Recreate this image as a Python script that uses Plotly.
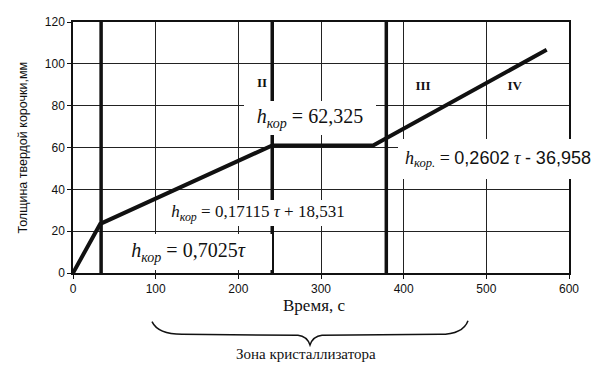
import plotly.graph_objects as go

# ---- data ----
tau = [0, 33, 241, 363, 573]            # time, s
h_crust = [0, 23.5, 61.0, 61.0, 106.7]  # crust thickness, mm
zone_bounds = [34, 241, 379]            # thick vertical zone boundaries, s
x_ticks = [0, 100, 200, 300, 400, 500, 600]
y_ticks = [0, 20, 40, 60, 80, 100, 120]
zone_labels = ["II", "III", "IV"]
eq_flat = "62,325"
eq_1 = "0,7025"
eq_2 = ("0,17115", "18,531")
eq_4 = ("0,2602", "36,958")

# ---- layout geometry (window pixels; page body has an 8px margin) ----
OFF = 8
WIN_W, WIN_H = 604, 378
W, H = WIN_W - OFF, WIN_H - OFF
PL, PR, PT, PB = 73, 569, 15, 273        # plot area in window pixels
ML, MT = PL - OFF, PT - OFF
MR, MB = (W + OFF) - PR, (H + OFF) - PB
PW, PH = PR - PL, PB - PT
X0, X1, Y0, Y1 = 0, 600, 0, 120


def dx(px):
    return X0 + (px - PL) / PW * (X1 - X0)


def dy(py):
    return Y0 + (PB - py) / PH * (Y1 - Y0)


def paper_x(px):
    return (px - PL) / PW


def paper_y(py):
    return (PB - py) / PH


fig = go.Figure()

for b in zone_bounds:
    fig.add_trace(go.Scatter(x=[b, b], y=[Y0, Y1], mode="lines",
                             line=dict(color="#111", width=3.5),
                             hoverinfo="skip", showlegend=False))

fig.add_trace(go.Scatter(x=tau, y=h_crust, mode="lines",
                         line=dict(color="#111", width=4),
                         showlegend=False))

SERIF = "Liberation Serif"
SANS = "Liberation Sans"
HK = "<i>h</i><sub><i>кор</i></sub>"


def box(text, cx, cy, w, h, size, family=SERIF):
    fig.add_annotation(
        x=dx(cx), y=dy(cy), xref="x", yref="y", text=text, showarrow=False,
        width=w, height=h, bgcolor="white", borderpad=0, borderwidth=0,
        xanchor="center", yanchor="middle", align="center",
        font=dict(family=family, size=size, color="#111"))


# zone labels
box("<b>" + zone_labels[0] + "</b>", 262, 77, 14, 18, 13)
box("<b>" + zone_labels[1] + "</b>", 423, 80, 18, 14, 13)
box("<b>" + zone_labels[2] + "</b>", 515, 80, 18, 14, 13)

# equations
box(HK + " = " + eq_flat, 310, 114, 132, 34, 20)
box("<i>h</i><sub><i>кор.</i></sub> = <span style='font-family:Liberation Sans'>"
    + eq_4[0] + "</span> <i>τ</i> <span style='font-family:Liberation Sans'>- "
    + eq_4[1] + "</span>", 498, 156, 200, 40, 18)
box(HK + " = " + eq_2[0] + " <i>τ</i> + " + eq_2[1], 258, 211, 196, 26, 17)
box(HK + " = " + eq_1 + "<i>τ</i>", 188, 251, 167, 36, 20)

# axis titles as annotations
fig.add_annotation(x=paper_x(314), y=paper_y(318), xref="paper", yref="paper",
                   text="Время, с", showarrow=False,
                   font=dict(family=SERIF, size=17, color="#111"))
fig.add_annotation(x=paper_x(13), y=0.5, xref="paper", yref="paper",
                   text="Толщина твердой корочки,мм", showarrow=False,
                   textangle=-90,
                   font=dict(family=SANS, size=12.5, color="#111"))
fig.add_annotation(x=paper_x(306), y=paper_y(367), xref="paper", yref="paper",
                   text="Зона кристаллизатора", showarrow=False,
                   font=dict(family=SERIF, size=15, color="#111"))

# curly brace under the axis title
pts = dict(a=(152, 323), b=(158, 336), c=(182, 336), d=(298, 337),
           e=(307, 338), f=(310, 347), g=(313, 338), i=(322, 337),
           j=(440, 336), k=(463, 336), l=(468, 322))
P = {k: (paper_x(v[0]), paper_y(v[1])) for k, v in pts.items()}


def s(k):
    return f"{P[k][0]:.5f},{P[k][1]:.5f}"


path = (f"M {s('a')} Q {s('b')} {s('c')} L {s('d')} Q {s('e')} {s('f')} "
        f"Q {s('g')} {s('i')} L {s('j')} Q {s('k')} {s('l')}")
fig.add_shape(type="path", path=path, xref="paper", yref="paper",
              line=dict(color="#111", width=1.5))

axis_common = dict(showgrid=True, gridcolor="#222", gridwidth=1,
                   showline=True, linecolor="#111", linewidth=1.5, mirror=True,
                   ticks="outside", ticklen=4, tickcolor="#111",
                   zeroline=False,
                   tickfont=dict(family=SANS, size=12, color="#111"))

fig.update_xaxes(range=[X0, X1], tickvals=x_ticks, **axis_common)
fig.update_yaxes(range=[Y0, Y1], tickvals=y_ticks, **axis_common)

fig.update_layout(width=W, height=H,
                  margin=dict(l=ML, r=MR, t=MT, b=MB),
                  paper_bgcolor="white", plot_bgcolor="white",
                  showlegend=False)

fig.write_html("out.html")
